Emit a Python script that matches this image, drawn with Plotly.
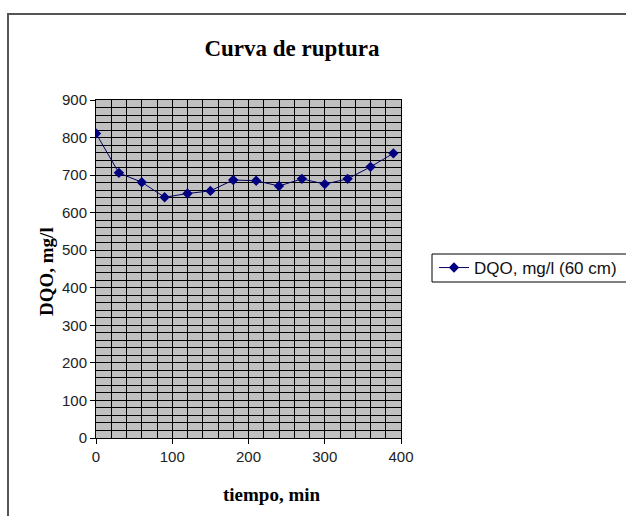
import plotly.graph_objects as go

# Breakthrough curve: COD of the effluent over time (60 cm bed)
tiempo_min = [0, 30, 60, 90, 120, 150, 180, 210, 240, 270, 300, 330, 360, 390]
dqo_mg_l = [811, 706, 681, 641, 651, 658, 687, 685, 671, 690, 676, 690, 722, 758]
serie = "DQO, mg/l (60 cm)"

W, H = 626, 516
L, R, T, B = 96, 225, 100, 78
pw, ph = W - L - R, H - T - B


def px_x(p):
    return (p - L) / pw


def px_y(p):
    return (H - B - p) / ph


fig = go.Figure()
fig.add_trace(go.Scatter(
    x=tiempo_min, y=dqo_mg_l, name=serie, mode="lines+markers",
    line=dict(color="#000060", width=1),
    marker=dict(symbol="diamond", size=8, color="#000080"),
))

serif = "Liberation Serif, Times New Roman, serif"
sans = "Liberation Sans, Arial, sans-serif"

axis_common = dict(
    showline=True, linecolor="black", linewidth=1, mirror=True,
    ticks="outside", ticklen=5, tickcolor="black",
    showgrid=True, gridcolor="black", gridwidth=1,
    zeroline=False,
    tickfont=dict(family=sans, size=15, color="#222"),
    minor=dict(dtick=20, showgrid=True, gridcolor="black", gridwidth=1),
)

fig.update_xaxes(range=[0, 400], dtick=100, tick0=0, **axis_common)
fig.update_yaxes(range=[0, 900], dtick=100, tick0=0, **axis_common)

# Axis titles placed as annotations so they can sit exactly where needed
fig.add_annotation(text="<b>tiempo, min</b>", xref="paper", yref="paper",
                   x=px_x(272), y=px_y(494), showarrow=False,
                   xanchor="center", yanchor="middle",
                   font=dict(family=serif, size=19, color="black"))
fig.add_annotation(text="<b>DQO, mg/l</b>", xref="paper", yref="paper",
                   x=px_x(46), y=px_y(272), showarrow=False, textangle=-90,
                   xanchor="center", yanchor="middle",
                   font=dict(family=serif, size=19, color="black"))

# Outer chart frame (extends past the right and bottom edges)
fig.add_shape(type="rect", xref="paper", yref="paper",
              x0=px_x(8), x1=px_x(640), y0=px_y(530), y1=px_y(14),
              line=dict(color="#555", width=2), fillcolor="rgba(0,0,0,0)", layer="above")

# Legend frame, running off the right edge of the chart
fig.add_shape(type="rect", xref="paper", yref="paper",
              x0=px_x(432), x1=px_x(660), y0=px_y(282), y1=px_y(254),
              line=dict(color="black", width=1), fillcolor="white", layer="above")

fig.update_layout(
    width=W, height=H,
    margin=dict(l=L, r=R, t=T, b=B, autoexpand=False),
    paper_bgcolor="white", plot_bgcolor="#c0c0c0",
    title=dict(text="<b>Curva de ruptura</b>", xref="container", x=292 / W, xanchor="center",
               y=(H - 48) / H, yanchor="middle",
               font=dict(family=serif, size=23, color="black")),
    showlegend=True,
    legend=dict(x=px_x(434), y=px_y(268), xanchor="left", yanchor="middle",
                bgcolor="rgba(0,0,0,0)", borderwidth=0,
                font=dict(family=sans, size=17, color="#111")),
)

fig.write_html("out.html")
